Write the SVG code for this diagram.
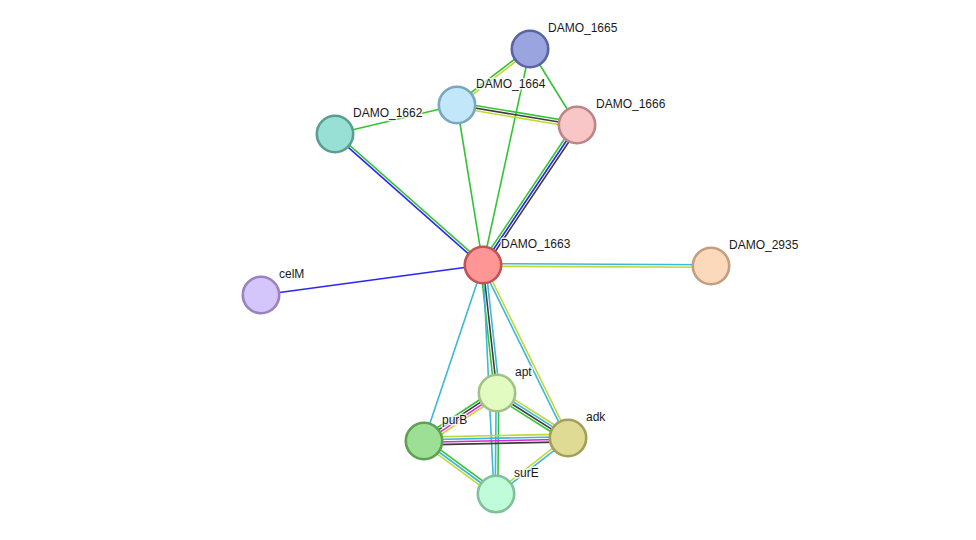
<svg xmlns="http://www.w3.org/2000/svg" width="976" height="540" viewBox="0 0 976 540">
<style>
.e line{stroke-width:1.6;fill:none}
.g{stroke:#33c433}.b{stroke:#2828f0}.k{stroke:#3c3c3c}.y{stroke:#c2d83a}.c{stroke:#3cb8d8}.m{stroke:#d828d8}
.n circle{stroke-width:2.6}
.n text{font-family:"Liberation Sans",Arial,sans-serif;font-size:12px;fill:#1a1a1a;stroke:#fff;stroke-width:3;stroke-opacity:0.8;paint-order:stroke;stroke-linejoin:round}
</style>
<rect width="976" height="540" fill="#fff"/>
<g id="edges" class="e">
<line class="g" x1="335" y1="134" x2="457" y2="105"/>
<line class="g" x1="456.2" y1="104" x2="529.2" y2="48"/>
<line class="y" x1="457.8" y1="106" x2="530.8" y2="50"/>
<line class="g" x1="530" y1="49" x2="577" y2="125"/>
<line class="g" x1="530" y1="49" x2="483" y2="265"/>
<line class="g" x1="457" y1="105" x2="483" y2="265"/>
<line class="g" x1="457.43" y1="102.44" x2="577.43" y2="122.44"/>
<line class="k" x1="457" y1="105" x2="577" y2="125"/>
<line class="y" x1="456.57" y1="107.56" x2="576.57" y2="127.56"/>
<line class="g" x1="480.84" y1="263.55" x2="574.84" y2="123.55"/>
<line class="b" x1="483" y1="265" x2="577" y2="125"/>
<line class="k" x1="485.16" y1="266.45" x2="579.16" y2="126.45"/>
<line class="b" x1="334.14" y1="134.97" x2="482.14" y2="265.97"/>
<line class="g" x1="335.86" y1="133.03" x2="483.86" y2="264.03"/>
<line class="b" x1="261" y1="295" x2="483" y2="265"/>
<line class="c" x1="483" y1="263.7" x2="711" y2="264.7"/>
<line class="y" x1="483" y1="266.3" x2="711" y2="267.3"/>
<line class="c" x1="483" y1="265" x2="424" y2="441"/>
<line class="g" x1="480.42" y1="265.28" x2="494.42" y2="393.28"/>
<line class="k" x1="483" y1="265" x2="497" y2="393"/>
<line class="c" x1="485.58" y1="264.72" x2="499.58" y2="392.72"/>
<line class="c" x1="483" y1="265" x2="494" y2="494"/>
<line class="c" x1="481.83" y1="265.57" x2="566.83" y2="438.57"/>
<line class="y" x1="484.17" y1="264.43" x2="569.17" y2="437.43"/>
<line class="g" x1="494.86" y1="389.74" x2="421.86" y2="437.74"/>
<line class="k" x1="496.29" y1="391.91" x2="423.29" y2="439.91"/>
<line class="m" x1="497.71" y1="394.09" x2="424.71" y2="442.09"/>
<line class="y" x1="499.14" y1="396.26" x2="426.14" y2="444.26"/>
<line class="y" x1="499.09" y1="389.71" x2="570.09" y2="434.71"/>
<line class="c" x1="497.7" y1="391.9" x2="568.7" y2="436.9"/>
<line class="k" x1="496.3" y1="394.1" x2="567.3" y2="439.1"/>
<line class="g" x1="494.91" y1="396.29" x2="565.91" y2="441.29"/>
<line class="c" x1="496.2" y1="393" x2="495.2" y2="494"/>
<line class="g" x1="498.8" y1="393" x2="497.8" y2="494"/>
<line class="y" x1="424" y1="437.1" x2="568" y2="434.1"/>
<line class="c" x1="424" y1="439.7" x2="568" y2="436.7"/>
<line class="m" x1="424" y1="442.3" x2="568" y2="439.3"/>
<line class="k" x1="424" y1="444.9" x2="568" y2="441.9"/>
<line class="g" x1="425.54" y1="438.91" x2="497.54" y2="491.91"/>
<line class="c" x1="424" y1="441" x2="496" y2="494"/>
<line class="y" x1="422.46" y1="443.09" x2="494.46" y2="496.09"/>
<line class="y" x1="567.2" y1="436.97" x2="495.2" y2="492.97"/>
<line class="c" x1="568.8" y1="439.03" x2="496.8" y2="495.03"/>
</g>
<g id="DAMO_1665" class="n"><circle cx="530" cy="49" r="18.2" fill="#9aa5e0" stroke="#5a64a4"/><text x="548" y="32">DAMO_1665</text></g>
<g id="DAMO_1664" class="n"><circle cx="457" cy="105" r="18.2" fill="#c2e6fa" stroke="#7aa6c0"/><text x="476" y="88">DAMO_1664</text></g>
<g id="DAMO_1666" class="n"><circle cx="577" cy="125" r="18.2" fill="#f8c6c6" stroke="#bd8585"/><text x="596" y="108">DAMO_1666</text></g>
<g id="DAMO_1662" class="n"><circle cx="335" cy="134" r="18.2" fill="#98e0d6" stroke="#5a9e90"/><text x="353" y="117">DAMO_1662</text></g>
<g id="DAMO_1663" class="n"><circle cx="483" cy="265" r="18.2" fill="#ff9696" stroke="#c05454"/><text x="501" y="248">DAMO_1663</text></g>
<g id="DAMO_2935" class="n"><circle cx="711" cy="266" r="18.2" fill="#fdd9bb" stroke="#c0a080"/><text x="729" y="249">DAMO_2935</text></g>
<g id="celM" class="n"><circle cx="261" cy="295" r="18.2" fill="#d4c5fb" stroke="#9a82c0"/><text x="279" y="278">celM</text></g>
<g id="apt" class="n"><circle cx="497" cy="393" r="18.2" fill="#e1fbc0" stroke="#a2c088"/><text x="515" y="376">apt</text></g>
<g id="purB" class="n"><circle cx="424" cy="441" r="18.2" fill="#9ddf95" stroke="#5da052"/><text x="442" y="424">purB</text></g>
<g id="adk" class="n"><circle cx="568" cy="438" r="18.2" fill="#dfdb95" stroke="#a0a05a"/><text x="586" y="421">adk</text></g>
<g id="surE" class="n"><circle cx="496" cy="494" r="18.2" fill="#c0fcda" stroke="#80c09a"/><text x="514" y="477">surE</text></g>
</svg>
